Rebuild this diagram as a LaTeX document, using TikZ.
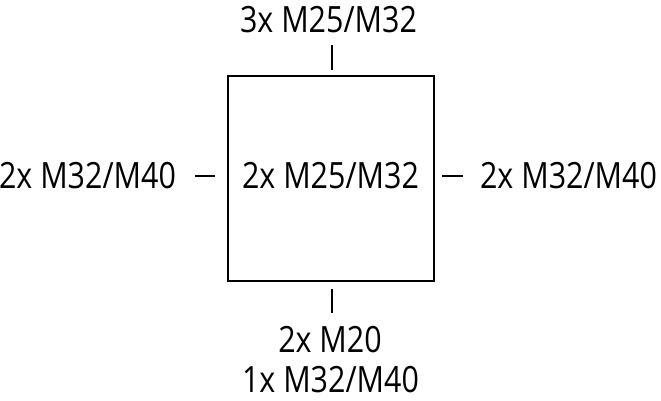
\documentclass[tikz,border=0pt]{standalone}
\usepackage{fontspec}
\setmainfont{Open Sans}[FakeStretch=0.84]
\begin{document}
\begin{tikzpicture}
[-,line width=0.6pt,%
  every node/.style={inner sep=0pt,outer sep=0pt,anchor=base,font=\fontsize{10.3}{12}\selectfont},%
  gland/.style={line width=0.6pt}]
\useasboundingbox (0,0) rectangle (6.61,4.00);
% housing
\node[draw,minimum width=2.06cm,minimum height=2.05cm,anchor=center] (box) at (3.31,2.215) {};
% labels
\node (center) at (3.305,2.12) {2x M25/M32};
\node (top) at (3.285,3.68) {3x M25/M32};
\node (left) at (0.875,2.12) {2x M32/M40};
\node (right) at (5.685,2.12) {2x M32/M40};
\node (bottom1) at (3.30,0.48) {2x M20};
\node (bottom2) at (3.305,0.08) {1x M32/M40};
% cable entries
\coordinate (t1) at (3.32,3.30);
\coordinate (t2) at (3.32,3.55);
\coordinate (b1) at (3.32,1.11);
\coordinate (b2) at (3.32,0.87);
\coordinate (l1) at (1.95,2.24);
\coordinate (l2) at (2.15,2.24);
\coordinate (r1) at (4.42,2.24);
\coordinate (r2) at (4.63,2.24);
\draw[gland] (t1) -- (t2);
\draw[gland] (b1) -- (b2);
\draw[gland] (l1) -- (l2);
\draw[gland] (r1) -- (r2);
\end{tikzpicture}
\end{document}
